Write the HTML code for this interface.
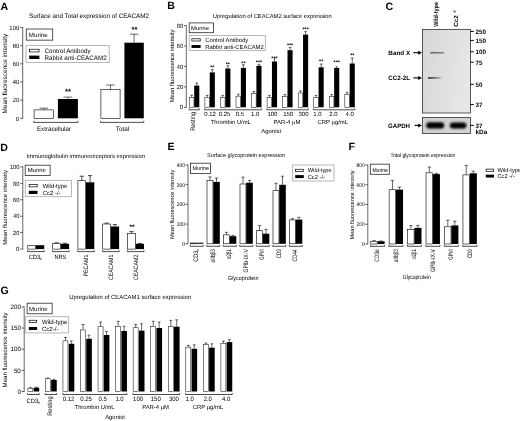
<!DOCTYPE html>
<html><head><meta charset="utf-8"><title>CEACAM2 figure</title>
<style>
html,body{margin:0;padding:0;background:#fff;}
svg{display:block;font-family:'Liberation Sans',sans-serif;text-rendering:geometricPrecision;}
</style></head><body>
<svg width="520" height="421" viewBox="0 0 520 421">
<rect width="520" height="421" fill="#fff"/>
<g style="filter:blur(0.35px)">
<text x="0.60" y="9.90" font-size="10.6" font-weight="bold">A</text>
<text x="167.20" y="9.30" font-size="10.6" font-weight="bold">B</text>
<text x="385.60" y="9.60" font-size="10.6" font-weight="bold">C</text>
<text x="0.20" y="150.60" font-size="10.6" font-weight="bold">D</text>
<text x="167.40" y="150.10" font-size="10.6" font-weight="bold">E</text>
<text x="348.40" y="150.20" font-size="10.6" font-weight="bold">F</text>
<text x="0.60" y="293.90" font-size="10.6" font-weight="bold">G</text>
<text x="29.00" y="18.40" font-size="6.4" textLength="120" lengthAdjust="spacingAndGlyphs">Surface and Total expression of CEACAM2</text>
<line x1="22.70" y1="27.10" x2="22.70" y2="118.70" stroke="#000" stroke-width="0.6"/>
<line x1="20.10" y1="118.30" x2="22.70" y2="118.30" stroke="#000" stroke-width="0.6"/>
<text x="19.20" y="120.55" font-size="6.25" text-anchor="end">0</text>
<line x1="20.10" y1="100.14" x2="22.70" y2="100.14" stroke="#000" stroke-width="0.6"/>
<text x="19.20" y="102.39" font-size="6.25" text-anchor="end" textLength="6.56" lengthAdjust="spacingAndGlyphs">20</text>
<line x1="20.10" y1="81.98" x2="22.70" y2="81.98" stroke="#000" stroke-width="0.6"/>
<text x="19.20" y="84.23" font-size="6.25" text-anchor="end" textLength="6.56" lengthAdjust="spacingAndGlyphs">40</text>
<line x1="20.10" y1="63.82" x2="22.70" y2="63.82" stroke="#000" stroke-width="0.6"/>
<text x="19.20" y="66.07" font-size="6.25" text-anchor="end" textLength="6.56" lengthAdjust="spacingAndGlyphs">60</text>
<line x1="20.10" y1="45.66" x2="22.70" y2="45.66" stroke="#000" stroke-width="0.6"/>
<text x="19.20" y="47.91" font-size="6.25" text-anchor="end" textLength="6.56" lengthAdjust="spacingAndGlyphs">80</text>
<line x1="20.10" y1="27.50" x2="22.70" y2="27.50" stroke="#000" stroke-width="0.6"/>
<text x="19.20" y="29.75" font-size="6.25" text-anchor="end" textLength="9.84" lengthAdjust="spacingAndGlyphs">100</text>
<text x="6.90" y="73.60" font-size="6.4" text-anchor="middle" transform="rotate(-90 6.90 73.60)" textLength="79.8" lengthAdjust="spacingAndGlyphs">Mean fluorescence intensity</text>
<rect x="26.30" y="29.00" width="26.40" height="11.15" fill="#fff" stroke="#2a2a2a" stroke-width="0.8"/>
<text x="28.85" y="36.70" font-size="6.2" textLength="18.85" lengthAdjust="spacingAndGlyphs">Murine</text>
<rect x="26.00" y="45.60" width="83.20" height="16.90" fill="#fff" stroke="#a6a6a6" stroke-width="0.8"/>
<rect x="29.55" y="49.25" width="9.50" height="2.70" fill="#fff" stroke="#000" stroke-width="0.7"/>
<text x="44.60" y="52.90" font-size="6.4" textLength="46" lengthAdjust="spacingAndGlyphs">Control Antibody</text>
<rect x="29.20" y="55.60" width="10.20" height="3.40" fill="#000"/>
<text x="44.60" y="59.60" font-size="6.4" textLength="62" lengthAdjust="spacingAndGlyphs">Rabbit anti-CEACAM2</text>
<path d="M43.80 109.60V108.20M39.55 108.20H48.05" fill="none" stroke="#000" stroke-width="0.6"/>
<rect x="34.10" y="109.90" width="19.40" height="8.40" fill="#fff" stroke="#000" stroke-width="0.6"/>
<path d="M67.90 99.00V97.10M63.65 97.10H72.15" fill="none" stroke="#000" stroke-width="0.6"/>
<rect x="57.90" y="99.00" width="20.00" height="19.30" fill="#000"/>
<path d="M110.50 89.20V85.00M106.25 85.00H114.75" fill="none" stroke="#000" stroke-width="0.6"/>
<rect x="100.90" y="89.50" width="19.20" height="28.80" fill="#fff" stroke="#000" stroke-width="0.6"/>
<path d="M134.10 42.70V34.20M129.85 34.20H138.35" fill="none" stroke="#000" stroke-width="0.6"/>
<rect x="124.40" y="42.70" width="19.40" height="75.60" fill="#000"/>
<path d="M33.80 120.80V122.40H77.90V120.80" fill="none" stroke="#000" stroke-width="0.7"/>
<path d="M100.60 120.80V122.40H143.80V120.80" fill="none" stroke="#000" stroke-width="0.7"/>
<text x="54.00" y="131.10" font-size="6.4" text-anchor="middle" textLength="34" lengthAdjust="spacingAndGlyphs">Extracellular</text>
<text x="122.60" y="131.00" font-size="6.4" text-anchor="middle" textLength="13.52" lengthAdjust="spacingAndGlyphs">Total</text>
<text x="67.90" y="93.95" font-size="7.5" text-anchor="middle" font-weight="bold">**</text>
<text x="134.40" y="31.85" font-size="7.5" text-anchor="middle" font-weight="bold">**</text>
<text x="212.80" y="17.50" font-size="5.9" textLength="119" lengthAdjust="spacingAndGlyphs">Upregulation of CEACAM2 surface expression</text>
<line x1="186.30" y1="25.20" x2="186.30" y2="107.70" stroke="#000" stroke-width="0.6"/>
<line x1="183.90" y1="107.30" x2="186.30" y2="107.30" stroke="#000" stroke-width="0.6"/>
<text x="183.10" y="109.47" font-size="6.04" text-anchor="end">0</text>
<line x1="183.90" y1="86.87" x2="186.30" y2="86.87" stroke="#000" stroke-width="0.6"/>
<text x="183.10" y="89.04" font-size="6.04" text-anchor="end" textLength="6.34" lengthAdjust="spacingAndGlyphs">20</text>
<line x1="183.90" y1="66.44" x2="186.30" y2="66.44" stroke="#000" stroke-width="0.6"/>
<text x="183.10" y="68.61" font-size="6.04" text-anchor="end" textLength="6.34" lengthAdjust="spacingAndGlyphs">40</text>
<line x1="183.90" y1="46.01" x2="186.30" y2="46.01" stroke="#000" stroke-width="0.6"/>
<text x="183.10" y="48.18" font-size="6.04" text-anchor="end" textLength="6.34" lengthAdjust="spacingAndGlyphs">60</text>
<line x1="183.90" y1="25.58" x2="186.30" y2="25.58" stroke="#000" stroke-width="0.6"/>
<text x="183.10" y="27.75" font-size="6.04" text-anchor="end" textLength="6.34" lengthAdjust="spacingAndGlyphs">80</text>
<text x="174.12" y="65.90" font-size="5.89" text-anchor="middle" transform="rotate(-90 174.12 65.90)" textLength="72.8" lengthAdjust="spacingAndGlyphs">Mean fluorescence intensity</text>
<rect x="189.20" y="22.90" width="24.40" height="9.80" fill="#fff" stroke="#2a2a2a" stroke-width="0.8"/>
<text x="191.10" y="29.85" font-size="5.6" textLength="17.9" lengthAdjust="spacingAndGlyphs">Murine</text>
<rect x="189.20" y="35.40" width="76.10" height="15.20" fill="#fff" stroke="#a6a6a6" stroke-width="0.8"/>
<rect x="191.85" y="38.80" width="8.40" height="2.20" fill="#fff" stroke="#000" stroke-width="0.7"/>
<text x="205.30" y="42.02" font-size="5.9" textLength="43" lengthAdjust="spacingAndGlyphs">Control Antibody</text>
<rect x="191.50" y="45.05" width="9.10" height="2.90" fill="#000"/>
<text x="205.30" y="48.62" font-size="5.9" textLength="58.5" lengthAdjust="spacingAndGlyphs">Rabbit anti-CEACAM2</text>
<path d="M191.65 97.40V95.30M190.35 95.30H192.95" fill="none" stroke="#000" stroke-width="0.6"/>
<path d="M196.75 85.60V83.10M195.45 83.10H198.05" fill="none" stroke="#000" stroke-width="0.6"/>
<rect x="189.35" y="97.65" width="4.60" height="9.65" fill="#fff" stroke="#000" stroke-width="0.5"/>
<rect x="194.20" y="85.60" width="5.10" height="21.70" fill="#000"/>
<path d="M207.20 97.40V95.30M205.90 95.30H208.50" fill="none" stroke="#000" stroke-width="0.6"/>
<path d="M212.30 72.40V69.60M211.00 69.60H213.60" fill="none" stroke="#000" stroke-width="0.6"/>
<rect x="204.90" y="97.65" width="4.60" height="9.65" fill="#fff" stroke="#000" stroke-width="0.5"/>
<rect x="209.75" y="72.40" width="5.10" height="34.90" fill="#000"/>
<text x="212.30" y="68.63" font-size="5.4" text-anchor="middle" font-weight="bold">**</text>
<path d="M222.75 97.40V95.40M221.45 95.40H224.05" fill="none" stroke="#000" stroke-width="0.6"/>
<path d="M227.85 68.50V65.80M226.55 65.80H229.15" fill="none" stroke="#000" stroke-width="0.6"/>
<rect x="220.45" y="97.65" width="4.60" height="9.65" fill="#fff" stroke="#000" stroke-width="0.5"/>
<rect x="225.30" y="68.50" width="5.10" height="38.80" fill="#000"/>
<text x="227.85" y="65.83" font-size="5.4" text-anchor="middle" font-weight="bold">**</text>
<path d="M238.30 95.90V94.20M237.00 94.20H239.60" fill="none" stroke="#000" stroke-width="0.6"/>
<path d="M243.40 67.90V64.70M242.10 64.70H244.70" fill="none" stroke="#000" stroke-width="0.6"/>
<rect x="236.00" y="96.15" width="4.60" height="11.15" fill="#fff" stroke="#000" stroke-width="0.5"/>
<rect x="240.85" y="67.90" width="5.10" height="39.40" fill="#000"/>
<text x="243.40" y="65.43" font-size="5.4" text-anchor="middle" font-weight="bold">**</text>
<path d="M253.85 93.10V91.40M252.55 91.40H255.15" fill="none" stroke="#000" stroke-width="0.6"/>
<path d="M258.95 65.80V64.30M257.65 64.30H260.25" fill="none" stroke="#000" stroke-width="0.6"/>
<rect x="251.55" y="93.35" width="4.60" height="13.95" fill="#fff" stroke="#000" stroke-width="0.5"/>
<rect x="256.40" y="65.80" width="5.10" height="41.50" fill="#000"/>
<text x="258.95" y="64.33" font-size="5.4" text-anchor="middle" font-weight="bold">***</text>
<path d="M269.40 97.40V95.40M268.10 95.40H270.70" fill="none" stroke="#000" stroke-width="0.6"/>
<path d="M274.50 61.50V58.80M273.20 58.80H275.80" fill="none" stroke="#000" stroke-width="0.6"/>
<rect x="267.10" y="97.65" width="4.60" height="9.65" fill="#fff" stroke="#000" stroke-width="0.5"/>
<rect x="271.95" y="61.50" width="5.10" height="45.80" fill="#000"/>
<text x="274.50" y="59.63" font-size="5.4" text-anchor="middle" font-weight="bold">***</text>
<path d="M284.95 96.30V94.60M283.65 94.60H286.25" fill="none" stroke="#000" stroke-width="0.6"/>
<path d="M290.05 50.20V47.40M288.75 47.40H291.35" fill="none" stroke="#000" stroke-width="0.6"/>
<rect x="282.65" y="96.55" width="4.60" height="10.75" fill="#fff" stroke="#000" stroke-width="0.5"/>
<rect x="287.50" y="50.20" width="5.10" height="57.10" fill="#000"/>
<text x="290.05" y="46.83" font-size="5.4" text-anchor="middle" font-weight="bold">***</text>
<path d="M300.50 92.70V90.90M299.20 90.90H301.80" fill="none" stroke="#000" stroke-width="0.6"/>
<path d="M305.60 34.60V31.60M304.30 31.60H306.90" fill="none" stroke="#000" stroke-width="0.6"/>
<rect x="298.20" y="92.95" width="4.60" height="14.35" fill="#fff" stroke="#000" stroke-width="0.5"/>
<rect x="303.05" y="34.60" width="5.10" height="72.70" fill="#000"/>
<text x="305.60" y="31.23" font-size="5.4" text-anchor="middle" font-weight="bold">***</text>
<path d="M316.05 97.40V95.40M314.75 95.40H317.35" fill="none" stroke="#000" stroke-width="0.6"/>
<path d="M321.15 67.30V64.10M319.85 64.10H322.45" fill="none" stroke="#000" stroke-width="0.6"/>
<rect x="313.75" y="97.65" width="4.60" height="9.65" fill="#fff" stroke="#000" stroke-width="0.5"/>
<rect x="318.60" y="67.30" width="5.10" height="40.00" fill="#000"/>
<text x="321.15" y="63.23" font-size="5.4" text-anchor="middle" font-weight="bold">**</text>
<path d="M331.60 96.30V94.60M330.30 94.60H332.90" fill="none" stroke="#000" stroke-width="0.6"/>
<path d="M336.70 68.00V66.90M335.40 66.90H338.00" fill="none" stroke="#000" stroke-width="0.6"/>
<rect x="329.30" y="96.55" width="4.60" height="10.75" fill="#fff" stroke="#000" stroke-width="0.5"/>
<rect x="334.15" y="68.00" width="5.10" height="39.30" fill="#000"/>
<text x="336.70" y="64.43" font-size="5.4" text-anchor="middle" font-weight="bold">***</text>
<path d="M347.15 94.20V92.40M345.85 92.40H348.45" fill="none" stroke="#000" stroke-width="0.6"/>
<path d="M352.25 63.50V58.00M350.95 58.00H353.55" fill="none" stroke="#000" stroke-width="0.6"/>
<rect x="344.85" y="94.45" width="4.60" height="12.85" fill="#fff" stroke="#000" stroke-width="0.5"/>
<rect x="349.70" y="63.50" width="5.10" height="43.80" fill="#000"/>
<text x="352.25" y="57.43" font-size="5.4" text-anchor="middle" font-weight="bold">**</text>
<path d="M189.10 108.40V109.80H199.30V108.40" fill="none" stroke="#000" stroke-width="0.7"/>
<path d="M204.60 108.40V109.80H261.60V108.40" fill="none" stroke="#000" stroke-width="0.7"/>
<path d="M266.80 108.40V109.80H308.30V108.40" fill="none" stroke="#000" stroke-width="0.7"/>
<path d="M313.40 108.40V109.80H354.90V108.40" fill="none" stroke="#000" stroke-width="0.7"/>
<text x="210.05" y="116.00" font-size="6.0" text-anchor="middle" textLength="11.68" lengthAdjust="spacingAndGlyphs">0.12</text>
<text x="224.50" y="116.00" font-size="6.0" text-anchor="middle" textLength="11.68" lengthAdjust="spacingAndGlyphs">0.25</text>
<text x="239.85" y="116.00" font-size="6.0" text-anchor="middle" textLength="8.34" lengthAdjust="spacingAndGlyphs">0.5</text>
<text x="255.10" y="116.00" font-size="6.0" text-anchor="middle" textLength="8.34" lengthAdjust="spacingAndGlyphs">1.0</text>
<text x="272.45" y="116.00" font-size="6.0" text-anchor="middle" textLength="10.01" lengthAdjust="spacingAndGlyphs">100</text>
<text x="288.20" y="116.00" font-size="6.0" text-anchor="middle" textLength="10.01" lengthAdjust="spacingAndGlyphs">150</text>
<text x="303.55" y="116.00" font-size="6.0" text-anchor="middle" textLength="10.01" lengthAdjust="spacingAndGlyphs">300</text>
<text x="317.30" y="116.00" font-size="6.0" text-anchor="middle" textLength="8.34" lengthAdjust="spacingAndGlyphs">1.0</text>
<text x="333.35" y="116.00" font-size="6.0" text-anchor="middle" textLength="8.34" lengthAdjust="spacingAndGlyphs">2.0</text>
<text x="349.70" y="116.00" font-size="6.0" text-anchor="middle" textLength="8.34" lengthAdjust="spacingAndGlyphs">4.0</text>
<text x="230.80" y="124.20" font-size="5.9" text-anchor="middle" textLength="40" lengthAdjust="spacingAndGlyphs">Thrombin U/mL</text>
<text x="286.90" y="124.20" font-size="5.9" text-anchor="middle" textLength="26.89" lengthAdjust="spacingAndGlyphs">PAR-4 µM</text>
<text x="332.80" y="124.20" font-size="5.9" text-anchor="middle" textLength="30.51" lengthAdjust="spacingAndGlyphs">CRP µg/mL</text>
<text x="271.20" y="132.60" font-size="5.9" text-anchor="middle" textLength="19.68" lengthAdjust="spacingAndGlyphs">Agonist</text>
<text x="194.74" y="112.00" font-size="6.5" text-anchor="end" transform="rotate(-90 194.74 112.00)" textLength="18.7" lengthAdjust="spacingAndGlyphs">Resting</text>
<defs><linearGradient id="gb" x1="0" x2="1" y1="0" y2="0"><stop offset="0" stop-color="#3a3a3a"/><stop offset="0.45" stop-color="#6a6a6a"/><stop offset="1" stop-color="#c4c4c4"/></linearGradient><linearGradient id="gx" x1="0" x2="1" y1="0" y2="0"><stop offset="0" stop-color="#666"/><stop offset="0.5" stop-color="#7a7a7a"/><stop offset="1" stop-color="#8c8c8c"/></linearGradient><linearGradient id="bg1" x1="0" x2="1" y1="0" y2="0.3"><stop offset="0" stop-color="#d7d7d7"/><stop offset="0.5" stop-color="#dedede"/><stop offset="1" stop-color="#e6e6e6"/></linearGradient><filter id="bl" x="-20%" y="-150%" width="140%" height="400%"><feGaussianBlur stdDeviation="0.55"/></filter><filter id="bl2" x="-20%" y="-50%" width="140%" height="200%"><feGaussianBlur stdDeviation="0.8"/></filter></defs>
<rect x="422.50" y="29.50" width="48.00" height="83.50" fill="url(#bg1)" stroke="#333" stroke-width="0.8"/>
<rect x="430.4" y="51.9" width="13.8" height="1.7" fill="url(#gx)" filter="url(#bl)"/>
<rect x="428.0" y="77.0" width="13.4" height="1.8" fill="url(#gb)" filter="url(#bl)"/>
<rect x="422.50" y="117.50" width="48.00" height="16.00" fill="#d2d2d2" stroke="#333" stroke-width="0.8"/>
<rect x="426.2" y="122.2" width="18" height="6.4" rx="3" fill="#050505" filter="url(#bl2)"/>
<rect x="449.8" y="122.4" width="16.6" height="6.2" rx="3" fill="#050505" filter="url(#bl2)"/>
<line x1="470.30" y1="31.40" x2="473.80" y2="31.40" stroke="#000" stroke-width="1.0"/>
<text x="475.60" y="33.70" font-size="6.3" font-weight="bold" textLength="10.51" lengthAdjust="spacingAndGlyphs">250</text>
<line x1="470.30" y1="40.40" x2="473.80" y2="40.40" stroke="#000" stroke-width="1.0"/>
<text x="475.60" y="42.70" font-size="6.3" font-weight="bold" textLength="10.51" lengthAdjust="spacingAndGlyphs">150</text>
<line x1="470.30" y1="51.80" x2="473.80" y2="51.80" stroke="#000" stroke-width="1.0"/>
<text x="475.60" y="54.10" font-size="6.3" font-weight="bold" textLength="10.51" lengthAdjust="spacingAndGlyphs">100</text>
<line x1="470.30" y1="62.20" x2="473.80" y2="62.20" stroke="#000" stroke-width="1.0"/>
<text x="475.60" y="64.50" font-size="6.3" font-weight="bold" textLength="7.01" lengthAdjust="spacingAndGlyphs">75</text>
<line x1="470.30" y1="84.30" x2="473.80" y2="84.30" stroke="#000" stroke-width="1.0"/>
<text x="475.60" y="86.60" font-size="6.3" font-weight="bold" textLength="7.01" lengthAdjust="spacingAndGlyphs">50</text>
<line x1="470.30" y1="104.60" x2="473.80" y2="104.60" stroke="#000" stroke-width="1.0"/>
<text x="475.60" y="106.90" font-size="6.3" font-weight="bold" textLength="7.01" lengthAdjust="spacingAndGlyphs">37</text>
<line x1="470.30" y1="125.40" x2="473.80" y2="125.40" stroke="#000" stroke-width="1.0"/>
<text x="475.60" y="127.70" font-size="6.3" font-weight="bold" textLength="7.01" lengthAdjust="spacingAndGlyphs">37</text>
<text x="475.60" y="134.30" font-size="6.3" font-weight="bold" textLength="11.56" lengthAdjust="spacingAndGlyphs">kDa</text>
<text x="388.30" y="55.00" font-size="6.3" font-weight="bold" textLength="21.9" lengthAdjust="spacingAndGlyphs">Band X</text>
<line x1="413.30" y1="52.70" x2="420.00" y2="52.70" stroke="#000" stroke-width="1.1"/>
<path d="M422.00 52.70L418.20 50.70V54.70Z" fill="#000"/>
<text x="388.30" y="80.20" font-size="6.3" font-weight="bold" textLength="21.7" lengthAdjust="spacingAndGlyphs">CC2-2L</text>
<line x1="413.30" y1="77.90" x2="420.00" y2="77.90" stroke="#000" stroke-width="1.1"/>
<path d="M422.00 77.90L418.20 75.90V79.90Z" fill="#000"/>
<text x="388.00" y="127.70" font-size="6.3" font-weight="bold" textLength="22" lengthAdjust="spacingAndGlyphs">GAPDH</text>
<line x1="414.60" y1="125.40" x2="420.00" y2="125.40" stroke="#000" stroke-width="1.1"/>
<path d="M422.00 125.40L418.20 123.40V127.40Z" fill="#000"/>
<text x="438.50" y="26.80" font-size="6.2" font-weight="bold" transform="rotate(-90 438.50 26.80)" textLength="24.8" lengthAdjust="spacingAndGlyphs">Wild-type</text>
<text x="457.60" y="26.80" font-size="6.0" font-weight="bold" transform="rotate(-90 457.60 26.80)" textLength="17.3" lengthAdjust="spacingAndGlyphs">Cc2 <tspan font-size="4.2" dy="-1.6">-/-</tspan></text>
<text x="26.50" y="158.00" font-size="5.9" textLength="118.5" lengthAdjust="spacingAndGlyphs">Immunoglobulin immunoreceptors expression</text>
<line x1="22.80" y1="166.40" x2="22.80" y2="249.50" stroke="#000" stroke-width="0.6"/>
<line x1="20.20" y1="249.10" x2="22.80" y2="249.10" stroke="#000" stroke-width="0.6"/>
<text x="19.40" y="251.27" font-size="6.04" text-anchor="end">0</text>
<line x1="20.20" y1="232.66" x2="22.80" y2="232.66" stroke="#000" stroke-width="0.6"/>
<text x="19.40" y="234.83" font-size="6.04" text-anchor="end" textLength="6.34" lengthAdjust="spacingAndGlyphs">20</text>
<line x1="20.20" y1="216.22" x2="22.80" y2="216.22" stroke="#000" stroke-width="0.6"/>
<text x="19.40" y="218.39" font-size="6.04" text-anchor="end" textLength="6.34" lengthAdjust="spacingAndGlyphs">40</text>
<line x1="20.20" y1="199.78" x2="22.80" y2="199.78" stroke="#000" stroke-width="0.6"/>
<text x="19.40" y="201.95" font-size="6.04" text-anchor="end" textLength="6.34" lengthAdjust="spacingAndGlyphs">60</text>
<line x1="20.20" y1="183.34" x2="22.80" y2="183.34" stroke="#000" stroke-width="0.6"/>
<text x="19.40" y="185.51" font-size="6.04" text-anchor="end" textLength="6.34" lengthAdjust="spacingAndGlyphs">80</text>
<line x1="20.20" y1="166.90" x2="22.80" y2="166.90" stroke="#000" stroke-width="0.6"/>
<text x="19.40" y="169.07" font-size="6.04" text-anchor="end" textLength="9.51" lengthAdjust="spacingAndGlyphs">100</text>
<text x="7.14" y="207.40" font-size="5.95" text-anchor="middle" transform="rotate(-90 7.14 207.40)" textLength="74.8" lengthAdjust="spacingAndGlyphs">Mean fluorescence intensity</text>
<rect x="25.20" y="165.20" width="24.95" height="10.20" fill="#fff" stroke="#2a2a2a" stroke-width="0.8"/>
<text x="27.70" y="172.30" font-size="5.9" textLength="18.1" lengthAdjust="spacingAndGlyphs">Murine</text>
<rect x="25.30" y="180.30" width="46.20" height="16.40" fill="#fff" stroke="#a6a6a6" stroke-width="0.8"/>
<rect x="29.15" y="184.35" width="8.00" height="2.50" fill="#fff" stroke="#000" stroke-width="0.7"/>
<text x="42.70" y="187.76" font-size="6.0" textLength="24.6" lengthAdjust="spacingAndGlyphs">Wild-type</text>
<rect x="28.80" y="190.80" width="8.70" height="3.20" fill="#000"/>
<text x="42.70" y="194.56" font-size="6.0" textLength="18.0" lengthAdjust="spacingAndGlyphs">Cc2 -/-</text>
<rect x="27.80" y="245.50" width="7.75" height="3.60" fill="#fff" stroke="#000" stroke-width="0.6"/>
<rect x="35.85" y="245.20" width="8.35" height="3.90" fill="#000"/>
<path d="M27.50 250.20V251.60H44.20V250.20" fill="none" stroke="#000" stroke-width="0.7"/>
<path d="M56.60 243.30V242.80M54.50 242.80H58.70" fill="none" stroke="#000" stroke-width="0.7"/>
<path d="M64.90 243.80V243.20M62.80 243.20H67.00" fill="none" stroke="#000" stroke-width="0.7"/>
<rect x="52.70" y="243.60" width="7.75" height="5.50" fill="#fff" stroke="#000" stroke-width="0.6"/>
<rect x="60.75" y="243.80" width="8.35" height="5.30" fill="#000"/>
<path d="M52.40 250.20V251.60H69.10V250.20" fill="none" stroke="#000" stroke-width="0.7"/>
<path d="M81.80 180.40V176.20M79.70 176.20H83.90" fill="none" stroke="#000" stroke-width="0.7"/>
<path d="M90.10 182.30V175.60M88.00 175.60H92.20" fill="none" stroke="#000" stroke-width="0.7"/>
<rect x="77.90" y="180.70" width="7.75" height="68.40" fill="#fff" stroke="#000" stroke-width="0.6"/>
<rect x="85.95" y="182.30" width="8.35" height="66.80" fill="#000"/>
<path d="M77.60 250.20V251.60H94.30V250.20" fill="none" stroke="#000" stroke-width="0.7"/>
<path d="M106.60 223.70V223.10M104.50 223.10H108.70" fill="none" stroke="#000" stroke-width="0.7"/>
<path d="M114.90 226.50V224.60M112.80 224.60H117.00" fill="none" stroke="#000" stroke-width="0.7"/>
<rect x="102.70" y="224.00" width="7.75" height="25.10" fill="#fff" stroke="#000" stroke-width="0.6"/>
<rect x="110.75" y="226.50" width="8.35" height="22.60" fill="#000"/>
<path d="M102.40 250.20V251.60H119.10V250.20" fill="none" stroke="#000" stroke-width="0.7"/>
<path d="M131.50 233.10V231.60M129.40 231.60H133.60" fill="none" stroke="#000" stroke-width="0.7"/>
<path d="M139.80 243.80V243.40M137.70 243.40H141.90" fill="none" stroke="#000" stroke-width="0.7"/>
<rect x="127.60" y="233.40" width="7.75" height="15.70" fill="#fff" stroke="#000" stroke-width="0.6"/>
<rect x="135.65" y="243.80" width="8.35" height="5.30" fill="#000"/>
<path d="M127.30 250.20V251.60H144.00V250.20" fill="none" stroke="#000" stroke-width="0.7"/>
<text x="35.40" y="258.80" font-size="6.2" text-anchor="middle" textLength="13.5" lengthAdjust="spacingAndGlyphs">CD3<tspan font-size="4.4" dy="1.2">ε</tspan></text>
<text x="60.40" y="258.80" font-size="6.2" text-anchor="middle" textLength="12" lengthAdjust="spacingAndGlyphs">NRS</text>
<text x="88.27" y="254.60" font-size="6.3" text-anchor="end" transform="rotate(-90 88.27 254.60)" textLength="22" lengthAdjust="spacingAndGlyphs">PECAM1</text>
<text x="113.27" y="254.60" font-size="6.3" text-anchor="end" transform="rotate(-90 113.27 254.60)" textLength="25.5" lengthAdjust="spacingAndGlyphs">CEACAM1</text>
<text x="138.07" y="254.60" font-size="6.3" text-anchor="end" transform="rotate(-90 138.07 254.60)" textLength="25.5" lengthAdjust="spacingAndGlyphs">CEACAM2</text>
<text x="132.00" y="229.37" font-size="6.5" text-anchor="middle" font-weight="bold">**</text>
<text x="207.10" y="157.00" font-size="5.5" textLength="78" lengthAdjust="spacingAndGlyphs">Surface glycoprotein expression</text>
<line x1="188.00" y1="164.60" x2="188.00" y2="244.20" stroke="#000" stroke-width="0.6"/>
<line x1="185.50" y1="243.80" x2="188.00" y2="243.80" stroke="#000" stroke-width="0.6"/>
<text x="185.00" y="245.78" font-size="5.5" text-anchor="end">0</text>
<line x1="185.50" y1="224.10" x2="188.00" y2="224.10" stroke="#000" stroke-width="0.6"/>
<text x="185.00" y="226.08" font-size="5.5" text-anchor="end" textLength="8.34" lengthAdjust="spacingAndGlyphs">100</text>
<line x1="185.50" y1="204.40" x2="188.00" y2="204.40" stroke="#000" stroke-width="0.6"/>
<text x="185.00" y="206.38" font-size="5.5" text-anchor="end" textLength="8.34" lengthAdjust="spacingAndGlyphs">200</text>
<line x1="185.50" y1="184.70" x2="188.00" y2="184.70" stroke="#000" stroke-width="0.6"/>
<text x="185.00" y="186.68" font-size="5.5" text-anchor="end" textLength="8.34" lengthAdjust="spacingAndGlyphs">300</text>
<line x1="185.50" y1="165.00" x2="188.00" y2="165.00" stroke="#000" stroke-width="0.6"/>
<text x="185.00" y="166.98" font-size="5.5" text-anchor="end" textLength="8.34" lengthAdjust="spacingAndGlyphs">400</text>
<text x="174.02" y="204.30" font-size="5.6" text-anchor="middle" transform="rotate(-90 174.02 204.30)" textLength="69.4" lengthAdjust="spacingAndGlyphs">Mean fluorescence intensity</text>
<rect x="190.50" y="163.20" width="20.00" height="10.20" fill="#fff" stroke="#2a2a2a" stroke-width="0.8"/>
<text x="192.50" y="170.30" font-size="5.5" textLength="16.5" lengthAdjust="spacingAndGlyphs">Murine</text>
<rect x="292.70" y="165.00" width="41.30" height="16.00" fill="#fff" stroke="#a6a6a6" stroke-width="0.8"/>
<rect x="295.55" y="169.25" width="7.90" height="2.30" fill="#fff" stroke="#000" stroke-width="0.7"/>
<text x="307.70" y="172.49" font-size="5.8" textLength="24" lengthAdjust="spacingAndGlyphs">Wild-type</text>
<rect x="295.20" y="175.10" width="8.60" height="3.00" fill="#000"/>
<text x="307.70" y="178.69" font-size="5.8" textLength="17.4" lengthAdjust="spacingAndGlyphs">Cc2 -/-</text>
<rect x="190.50" y="243.00" width="5.95" height="0.80" fill="#fff" stroke="#000" stroke-width="0.6"/>
<rect x="196.75" y="242.70" width="6.55" height="1.10" fill="#000"/>
<path d="M190.20 245.00V246.30H203.30V245.00" fill="none" stroke="#000" stroke-width="0.7"/>
<path d="M210.00 180.00V176.90M208.40 176.90H211.60" fill="none" stroke="#000" stroke-width="0.6"/>
<path d="M216.50 181.90V178.00M214.90 178.00H218.10" fill="none" stroke="#000" stroke-width="0.6"/>
<rect x="207.00" y="180.30" width="5.95" height="63.50" fill="#fff" stroke="#000" stroke-width="0.6"/>
<rect x="213.25" y="181.90" width="6.55" height="61.90" fill="#000"/>
<path d="M206.70 245.00V246.30H219.80V245.00" fill="none" stroke="#000" stroke-width="0.7"/>
<path d="M226.50 234.60V232.30M224.90 232.30H228.10" fill="none" stroke="#000" stroke-width="0.6"/>
<path d="M233.00 236.20V235.40M231.40 235.40H234.60" fill="none" stroke="#000" stroke-width="0.6"/>
<rect x="223.50" y="234.90" width="5.95" height="8.90" fill="#fff" stroke="#000" stroke-width="0.6"/>
<rect x="229.75" y="236.20" width="6.55" height="7.60" fill="#000"/>
<path d="M223.20 245.00V246.30H236.30V245.00" fill="none" stroke="#000" stroke-width="0.7"/>
<path d="M243.00 183.70V177.10M241.40 177.10H244.60" fill="none" stroke="#000" stroke-width="0.6"/>
<path d="M249.50 182.70V180.40M247.90 180.40H251.10" fill="none" stroke="#000" stroke-width="0.6"/>
<rect x="240.00" y="184.00" width="5.95" height="59.80" fill="#fff" stroke="#000" stroke-width="0.6"/>
<rect x="246.25" y="182.70" width="6.55" height="61.10" fill="#000"/>
<path d="M239.70 245.00V246.30H252.80V245.00" fill="none" stroke="#000" stroke-width="0.7"/>
<path d="M259.50 230.40V225.60M257.90 225.60H261.10" fill="none" stroke="#000" stroke-width="0.6"/>
<path d="M266.00 233.70V229.40M264.40 229.40H267.60" fill="none" stroke="#000" stroke-width="0.6"/>
<rect x="256.50" y="230.70" width="5.95" height="13.10" fill="#fff" stroke="#000" stroke-width="0.6"/>
<rect x="262.75" y="233.70" width="6.55" height="10.10" fill="#000"/>
<path d="M256.20 245.00V246.30H269.30V245.00" fill="none" stroke="#000" stroke-width="0.7"/>
<path d="M276.00 190.40V183.30M274.40 183.30H277.60" fill="none" stroke="#000" stroke-width="0.6"/>
<path d="M282.50 184.80V176.20M280.90 176.20H284.10" fill="none" stroke="#000" stroke-width="0.6"/>
<rect x="273.00" y="190.70" width="5.95" height="53.10" fill="#fff" stroke="#000" stroke-width="0.6"/>
<rect x="279.25" y="184.80" width="6.55" height="59.00" fill="#000"/>
<path d="M272.70 245.00V246.30H285.80V245.00" fill="none" stroke="#000" stroke-width="0.7"/>
<path d="M292.50 219.60V218.70M290.90 218.70H294.10" fill="none" stroke="#000" stroke-width="0.6"/>
<path d="M299.00 219.60V217.30M297.40 217.30H300.60" fill="none" stroke="#000" stroke-width="0.6"/>
<rect x="289.50" y="219.90" width="5.95" height="23.90" fill="#fff" stroke="#000" stroke-width="0.6"/>
<rect x="295.75" y="219.60" width="6.55" height="24.20" fill="#000"/>
<path d="M289.20 245.00V246.30H302.30V245.00" fill="none" stroke="#000" stroke-width="0.7"/>
<text x="198.24" y="249.20" font-size="6.5" text-anchor="end" transform="rotate(-90 198.24 249.20)" textLength="12.5" lengthAdjust="spacingAndGlyphs">CD3<tspan font-size="4.4" dy="1.2">ε</tspan></text>
<text x="214.74" y="249.20" font-size="6.5" text-anchor="end" transform="rotate(-90 214.74 249.20)" textLength="13.2" lengthAdjust="spacingAndGlyphs">αIIbβ3</text>
<text x="231.24" y="249.20" font-size="6.5" text-anchor="end" transform="rotate(-90 231.24 249.20)" textLength="9.8" lengthAdjust="spacingAndGlyphs">α2β1</text>
<text x="247.74" y="249.20" font-size="6.5" text-anchor="end" transform="rotate(-90 247.74 249.20)" textLength="23.3" lengthAdjust="spacingAndGlyphs">GPIb-IX-V</text>
<text x="264.24" y="249.20" font-size="6.5" text-anchor="end" transform="rotate(-90 264.24 249.20)" textLength="10.6" lengthAdjust="spacingAndGlyphs">GPVI</text>
<text x="280.74" y="249.20" font-size="6.5" text-anchor="end" transform="rotate(-90 280.74 249.20)" textLength="9.0" lengthAdjust="spacingAndGlyphs">CD9</text>
<text x="297.24" y="249.20" font-size="6.5" text-anchor="end" transform="rotate(-90 297.24 249.20)" textLength="12.3" lengthAdjust="spacingAndGlyphs">CD44</text>
<text x="243.20" y="280.10" font-size="6.05" text-anchor="middle" textLength="30.5" lengthAdjust="spacingAndGlyphs">Glycoprotein</text>
<text x="390.40" y="157.18" font-size="5.61" textLength="65" lengthAdjust="spacingAndGlyphs">Total glycoprotein expression</text>
<line x1="367.80" y1="164.60" x2="367.80" y2="244.40" stroke="#000" stroke-width="0.6"/>
<line x1="365.30" y1="244.00" x2="367.80" y2="244.00" stroke="#000" stroke-width="0.6"/>
<text x="364.80" y="245.98" font-size="5.49" text-anchor="end">0</text>
<line x1="365.30" y1="224.25" x2="367.80" y2="224.25" stroke="#000" stroke-width="0.6"/>
<text x="364.80" y="226.23" font-size="5.49" text-anchor="end" textLength="8.18" lengthAdjust="spacingAndGlyphs">200</text>
<line x1="365.30" y1="204.50" x2="367.80" y2="204.50" stroke="#000" stroke-width="0.6"/>
<text x="364.80" y="206.48" font-size="5.49" text-anchor="end" textLength="8.18" lengthAdjust="spacingAndGlyphs">400</text>
<line x1="365.30" y1="184.75" x2="367.80" y2="184.75" stroke="#000" stroke-width="0.6"/>
<text x="364.80" y="186.73" font-size="5.49" text-anchor="end" textLength="8.18" lengthAdjust="spacingAndGlyphs">600</text>
<line x1="365.30" y1="165.00" x2="367.80" y2="165.00" stroke="#000" stroke-width="0.6"/>
<text x="364.80" y="166.98" font-size="5.49" text-anchor="end" textLength="8.18" lengthAdjust="spacingAndGlyphs">800</text>
<text x="354.41" y="204.90" font-size="5.57" text-anchor="middle" transform="rotate(-90 354.41 204.90)" textLength="69" lengthAdjust="spacingAndGlyphs">Mean fluorescence intensity</text>
<rect x="370.30" y="164.15" width="19.00" height="10.15" fill="#fff" stroke="#2a2a2a" stroke-width="0.8"/>
<text x="372.40" y="171.70" font-size="5.5" textLength="15.4" lengthAdjust="spacingAndGlyphs">Murine</text>
<rect x="486.15" y="169.10" width="7.50" height="2.20" fill="#fff" stroke="#000" stroke-width="0.7"/>
<text x="497.50" y="172.25" font-size="5.7" textLength="23.5" lengthAdjust="spacingAndGlyphs">Wild-type</text>
<rect x="485.80" y="174.65" width="8.20" height="2.90" fill="#000"/>
<text x="497.50" y="178.15" font-size="5.7" textLength="17.1" lengthAdjust="spacingAndGlyphs">Cc2 -/-</text>
<path d="M374.00 241.00V240.60M372.30 240.60H375.70" fill="none" stroke="#000" stroke-width="0.6"/>
<path d="M381.00 241.30V241.00M379.30 241.00H382.70" fill="none" stroke="#000" stroke-width="0.6"/>
<rect x="370.70" y="241.30" width="6.50" height="2.70" fill="#fff" stroke="#000" stroke-width="0.6"/>
<rect x="377.50" y="241.30" width="7.10" height="2.70" fill="#000"/>
<path d="M370.40 245.00V246.30H384.60V245.00" fill="none" stroke="#000" stroke-width="0.7"/>
<path d="M392.45 189.40V180.40M390.75 180.40H394.15" fill="none" stroke="#000" stroke-width="0.6"/>
<path d="M399.45 189.60V187.10M397.75 187.10H401.15" fill="none" stroke="#000" stroke-width="0.6"/>
<rect x="389.15" y="189.70" width="6.50" height="54.30" fill="#fff" stroke="#000" stroke-width="0.6"/>
<rect x="395.95" y="189.60" width="7.10" height="54.40" fill="#000"/>
<path d="M388.85 245.00V246.30H403.05V245.00" fill="none" stroke="#000" stroke-width="0.7"/>
<path d="M410.90 229.20V225.60M409.20 225.60H412.60" fill="none" stroke="#000" stroke-width="0.6"/>
<path d="M417.90 227.90V225.40M416.20 225.40H419.60" fill="none" stroke="#000" stroke-width="0.6"/>
<rect x="407.60" y="229.50" width="6.50" height="14.50" fill="#fff" stroke="#000" stroke-width="0.6"/>
<rect x="414.40" y="227.90" width="7.10" height="16.10" fill="#000"/>
<path d="M407.30 245.00V246.30H421.50V245.00" fill="none" stroke="#000" stroke-width="0.7"/>
<path d="M429.35 172.50V167.00M427.65 167.00H431.05" fill="none" stroke="#000" stroke-width="0.6"/>
<path d="M436.35 174.10V173.30M434.65 173.30H438.05" fill="none" stroke="#000" stroke-width="0.6"/>
<rect x="426.05" y="172.80" width="6.50" height="71.20" fill="#fff" stroke="#000" stroke-width="0.6"/>
<rect x="432.85" y="174.10" width="7.10" height="69.90" fill="#000"/>
<path d="M425.75 245.00V246.30H439.95V245.00" fill="none" stroke="#000" stroke-width="0.7"/>
<path d="M447.80 226.50V220.20M446.10 220.20H449.50" fill="none" stroke="#000" stroke-width="0.6"/>
<path d="M454.80 225.40V221.20M453.10 221.20H456.50" fill="none" stroke="#000" stroke-width="0.6"/>
<rect x="444.50" y="226.80" width="6.50" height="17.20" fill="#fff" stroke="#000" stroke-width="0.6"/>
<rect x="451.30" y="225.40" width="7.10" height="18.60" fill="#000"/>
<path d="M444.20 245.00V246.30H458.40V245.00" fill="none" stroke="#000" stroke-width="0.7"/>
<path d="M466.25 174.60V165.40M464.55 165.40H467.95" fill="none" stroke="#000" stroke-width="0.6"/>
<path d="M473.25 173.30V171.20M471.55 171.20H474.95" fill="none" stroke="#000" stroke-width="0.6"/>
<rect x="462.95" y="174.90" width="6.50" height="69.10" fill="#fff" stroke="#000" stroke-width="0.6"/>
<rect x="469.75" y="173.30" width="7.10" height="70.70" fill="#000"/>
<path d="M462.65 245.00V246.30H476.85V245.00" fill="none" stroke="#000" stroke-width="0.7"/>
<text x="379.40" y="249.20" font-size="6.4" text-anchor="end" transform="rotate(-90 379.40 249.20)" textLength="12.5" lengthAdjust="spacingAndGlyphs">CD3e</text>
<text x="397.85" y="249.20" font-size="6.4" text-anchor="end" transform="rotate(-90 397.85 249.20)" textLength="13.0" lengthAdjust="spacingAndGlyphs">αIIbβ3</text>
<text x="416.30" y="249.20" font-size="6.4" text-anchor="end" transform="rotate(-90 416.30 249.20)" textLength="9.6" lengthAdjust="spacingAndGlyphs">α2β1</text>
<text x="434.75" y="249.20" font-size="6.4" text-anchor="end" transform="rotate(-90 434.75 249.20)" textLength="22.8" lengthAdjust="spacingAndGlyphs">GPIb-IX-V</text>
<text x="453.20" y="249.20" font-size="6.4" text-anchor="end" transform="rotate(-90 453.20 249.20)" textLength="10.6" lengthAdjust="spacingAndGlyphs">GPVI</text>
<text x="471.65" y="249.20" font-size="6.4" text-anchor="end" transform="rotate(-90 471.65 249.20)" textLength="8.9" lengthAdjust="spacingAndGlyphs">CD9</text>
<text x="416.80" y="278.85" font-size="6.25" text-anchor="middle" textLength="28" lengthAdjust="spacingAndGlyphs">Glycoprotein</text>
<text x="69.20" y="298.70" font-size="6.0" textLength="122" lengthAdjust="spacingAndGlyphs">Upregulation of CEACAM1 surface expression</text>
<line x1="24.20" y1="306.40" x2="24.20" y2="391.90" stroke="#000" stroke-width="0.6"/>
<line x1="21.60" y1="391.50" x2="24.20" y2="391.50" stroke="#000" stroke-width="0.6"/>
<text x="20.90" y="393.77" font-size="6.3" text-anchor="end">0</text>
<line x1="21.60" y1="370.35" x2="24.20" y2="370.35" stroke="#000" stroke-width="0.6"/>
<text x="20.90" y="372.62" font-size="6.3" text-anchor="end" textLength="7.01" lengthAdjust="spacingAndGlyphs">50</text>
<line x1="21.60" y1="349.20" x2="24.20" y2="349.20" stroke="#000" stroke-width="0.6"/>
<text x="20.90" y="351.47" font-size="6.3" text-anchor="end" textLength="10.51" lengthAdjust="spacingAndGlyphs">100</text>
<line x1="21.60" y1="328.05" x2="24.20" y2="328.05" stroke="#000" stroke-width="0.6"/>
<text x="20.90" y="330.32" font-size="6.3" text-anchor="end" textLength="10.51" lengthAdjust="spacingAndGlyphs">150</text>
<line x1="21.60" y1="306.90" x2="24.20" y2="306.90" stroke="#000" stroke-width="0.6"/>
<text x="20.90" y="309.17" font-size="6.3" text-anchor="end" textLength="10.51" lengthAdjust="spacingAndGlyphs">200</text>
<text x="7.18" y="349.90" font-size="6.05" text-anchor="middle" transform="rotate(-90 7.18 349.90)" textLength="75" lengthAdjust="spacingAndGlyphs">Mean fluorescence intensity</text>
<rect x="27.10" y="303.20" width="25.05" height="10.60" fill="#fff" stroke="#2a2a2a" stroke-width="0.8"/>
<text x="29.10" y="310.70" font-size="6.0" textLength="18.4" lengthAdjust="spacingAndGlyphs">Murine</text>
<rect x="25.30" y="316.70" width="43.40" height="16.20" fill="#fff" stroke="#a6a6a6" stroke-width="0.8"/>
<rect x="29.15" y="320.25" width="7.60" height="2.30" fill="#fff" stroke="#000" stroke-width="0.7"/>
<text x="41.90" y="323.60" font-size="6.1" textLength="25.4" lengthAdjust="spacingAndGlyphs">Wild-type</text>
<rect x="28.80" y="327.00" width="8.30" height="3.00" fill="#000"/>
<text x="41.90" y="330.70" font-size="6.1" textLength="16.61" lengthAdjust="spacingAndGlyphs">Cc2-/-</text>
<path d="M30.40 388.00V387.60M29.00 387.60H31.80" fill="none" stroke="#000" stroke-width="0.6"/>
<path d="M36.30 387.70V387.20M34.90 387.20H37.70" fill="none" stroke="#000" stroke-width="0.6"/>
<rect x="27.85" y="388.25" width="5.00" height="3.25" fill="#fff" stroke="#000" stroke-width="0.5"/>
<rect x="33.60" y="387.70" width="5.60" height="3.80" fill="#000"/>
<path d="M47.95 378.50V378.00M46.55 378.00H49.35" fill="none" stroke="#000" stroke-width="0.6"/>
<path d="M53.85 380.00V379.40M52.45 379.40H55.25" fill="none" stroke="#000" stroke-width="0.6"/>
<rect x="45.40" y="378.75" width="5.00" height="12.75" fill="#fff" stroke="#000" stroke-width="0.5"/>
<rect x="51.15" y="380.00" width="5.60" height="11.50" fill="#000"/>
<path d="M65.50 340.60V337.40M64.10 337.40H66.90" fill="none" stroke="#000" stroke-width="0.6"/>
<path d="M71.40 343.80V341.00M70.00 341.00H72.80" fill="none" stroke="#000" stroke-width="0.6"/>
<rect x="62.95" y="340.85" width="5.00" height="50.65" fill="#fff" stroke="#000" stroke-width="0.5"/>
<rect x="68.70" y="343.80" width="5.60" height="47.70" fill="#000"/>
<path d="M83.05 329.70V324.50M81.65 324.50H84.45" fill="none" stroke="#000" stroke-width="0.6"/>
<path d="M88.95 338.80V335.20M87.55 335.20H90.35" fill="none" stroke="#000" stroke-width="0.6"/>
<rect x="80.50" y="329.95" width="5.00" height="61.55" fill="#fff" stroke="#000" stroke-width="0.5"/>
<rect x="86.25" y="338.80" width="5.60" height="52.70" fill="#000"/>
<path d="M100.60 326.50V322.00M99.20 322.00H102.00" fill="none" stroke="#000" stroke-width="0.6"/>
<path d="M106.50 335.00V331.40M105.10 331.40H107.90" fill="none" stroke="#000" stroke-width="0.6"/>
<rect x="98.05" y="326.75" width="5.00" height="64.75" fill="#fff" stroke="#000" stroke-width="0.5"/>
<rect x="103.80" y="335.00" width="5.60" height="56.50" fill="#000"/>
<path d="M118.15 326.20V321.30M116.75 321.30H119.55" fill="none" stroke="#000" stroke-width="0.6"/>
<path d="M124.05 331.00V326.20M122.65 326.20H125.45" fill="none" stroke="#000" stroke-width="0.6"/>
<rect x="115.60" y="326.45" width="5.00" height="65.05" fill="#fff" stroke="#000" stroke-width="0.5"/>
<rect x="121.35" y="331.00" width="5.60" height="60.50" fill="#000"/>
<path d="M135.70 327.50V324.60M134.30 324.60H137.10" fill="none" stroke="#000" stroke-width="0.6"/>
<path d="M141.60 330.60V323.80M140.20 323.80H143.00" fill="none" stroke="#000" stroke-width="0.6"/>
<rect x="133.15" y="327.75" width="5.00" height="63.75" fill="#fff" stroke="#000" stroke-width="0.5"/>
<rect x="138.90" y="330.60" width="5.60" height="60.90" fill="#000"/>
<path d="M153.25 326.20V321.30M151.85 321.30H154.65" fill="none" stroke="#000" stroke-width="0.6"/>
<path d="M159.15 328.00V322.00M157.75 322.00H160.55" fill="none" stroke="#000" stroke-width="0.6"/>
<rect x="150.70" y="326.45" width="5.00" height="65.05" fill="#fff" stroke="#000" stroke-width="0.5"/>
<rect x="156.45" y="328.00" width="5.60" height="63.50" fill="#000"/>
<path d="M170.80 326.20V320.40M169.40 320.40H172.20" fill="none" stroke="#000" stroke-width="0.6"/>
<path d="M176.70 326.70V319.80M175.30 319.80H178.10" fill="none" stroke="#000" stroke-width="0.6"/>
<rect x="168.25" y="326.45" width="5.00" height="65.05" fill="#fff" stroke="#000" stroke-width="0.5"/>
<rect x="174.00" y="326.70" width="5.60" height="64.80" fill="#000"/>
<path d="M188.35 346.90V345.40M186.95 345.40H189.75" fill="none" stroke="#000" stroke-width="0.6"/>
<path d="M194.25 348.80V344.80M192.85 344.80H195.65" fill="none" stroke="#000" stroke-width="0.6"/>
<rect x="185.80" y="347.15" width="5.00" height="44.35" fill="#fff" stroke="#000" stroke-width="0.5"/>
<rect x="191.55" y="348.80" width="5.60" height="42.70" fill="#000"/>
<path d="M205.90 344.40V343.00M204.50 343.00H207.30" fill="none" stroke="#000" stroke-width="0.6"/>
<path d="M211.80 347.70V343.80M210.40 343.80H213.20" fill="none" stroke="#000" stroke-width="0.6"/>
<rect x="203.35" y="344.65" width="5.00" height="46.85" fill="#fff" stroke="#000" stroke-width="0.5"/>
<rect x="209.10" y="347.70" width="5.60" height="43.80" fill="#000"/>
<path d="M223.45 343.00V341.20M222.05 341.20H224.85" fill="none" stroke="#000" stroke-width="0.6"/>
<path d="M229.35 342.10V339.60M227.95 339.60H230.75" fill="none" stroke="#000" stroke-width="0.6"/>
<rect x="220.90" y="343.25" width="5.00" height="48.25" fill="#fff" stroke="#000" stroke-width="0.5"/>
<rect x="226.65" y="342.10" width="5.60" height="49.40" fill="#000"/>
<path d="M27.60 393.10V394.50H39.20V393.10" fill="none" stroke="#000" stroke-width="0.7"/>
<path d="M45.15 393.10V394.50H56.75V393.10" fill="none" stroke="#000" stroke-width="0.7"/>
<path d="M62.70 393.10V394.50H126.95V393.10" fill="none" stroke="#000" stroke-width="0.7"/>
<path d="M132.90 393.10V394.50H179.60V393.10" fill="none" stroke="#000" stroke-width="0.7"/>
<path d="M185.55 393.10V394.50H232.25V393.10" fill="none" stroke="#000" stroke-width="0.7"/>
<text x="33.40" y="402.60" font-size="6.3" text-anchor="middle" textLength="13.6" lengthAdjust="spacingAndGlyphs">CD3<tspan font-size="4.5" dy="1.2">ε</tspan></text>
<text x="52.14" y="396.40" font-size="6.5" text-anchor="end" transform="rotate(-90 52.14 396.40)" textLength="19.4" lengthAdjust="spacingAndGlyphs">Resting</text>
<text x="68.50" y="400.61" font-size="6.3" text-anchor="middle" textLength="11.68" lengthAdjust="spacingAndGlyphs">0.12</text>
<text x="86.05" y="400.61" font-size="6.3" text-anchor="middle" textLength="11.68" lengthAdjust="spacingAndGlyphs">0.25</text>
<text x="102.70" y="400.61" font-size="6.3" text-anchor="middle" textLength="8.34" lengthAdjust="spacingAndGlyphs">0.5</text>
<text x="119.55" y="400.61" font-size="6.3" text-anchor="middle" textLength="8.34" lengthAdjust="spacingAndGlyphs">1.0</text>
<text x="138.10" y="400.61" font-size="6.3" text-anchor="middle" textLength="10.01" lengthAdjust="spacingAndGlyphs">100</text>
<text x="155.75" y="400.61" font-size="6.3" text-anchor="middle" textLength="10.01" lengthAdjust="spacingAndGlyphs">150</text>
<text x="173.90" y="400.61" font-size="6.3" text-anchor="middle" textLength="10.01" lengthAdjust="spacingAndGlyphs">300</text>
<text x="189.75" y="400.61" font-size="6.3" text-anchor="middle" textLength="8.34" lengthAdjust="spacingAndGlyphs">1.0</text>
<text x="207.80" y="400.61" font-size="6.3" text-anchor="middle" textLength="8.34" lengthAdjust="spacingAndGlyphs">2.0</text>
<text x="226.15" y="400.61" font-size="6.3" text-anchor="middle" textLength="8.34" lengthAdjust="spacingAndGlyphs">4.0</text>
<text x="94.60" y="409.30" font-size="5.9" text-anchor="middle" textLength="40" lengthAdjust="spacingAndGlyphs">Thrombin U/mL</text>
<text x="155.60" y="409.30" font-size="5.9" text-anchor="middle" textLength="26.89" lengthAdjust="spacingAndGlyphs">PAR-4 µM</text>
<text x="208.00" y="409.40" font-size="5.9" text-anchor="middle" textLength="30.51" lengthAdjust="spacingAndGlyphs">CRP µg/mL</text>
<text x="115.00" y="419.20" font-size="5.9" text-anchor="middle" textLength="19.68" lengthAdjust="spacingAndGlyphs">Agonist</text>
</g>
</svg>
</body></html>
